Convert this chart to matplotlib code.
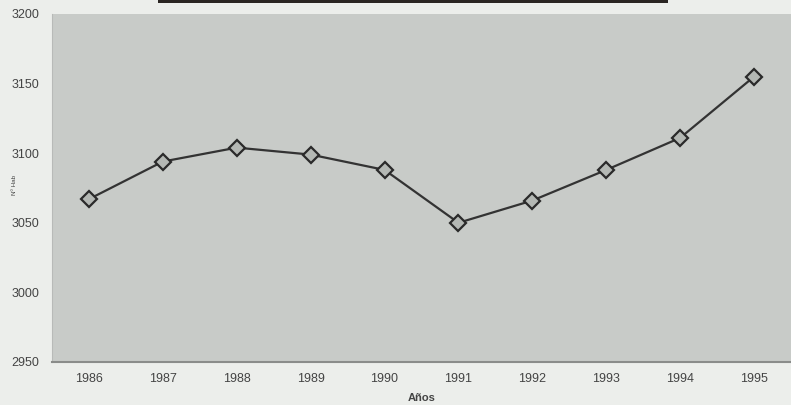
import matplotlib
matplotlib.use("Agg")
import matplotlib.pyplot as plt
from matplotlib.patches import Rectangle

years = ["1986", "1987", "1988", "1989", "1990", "1991", "1992", "1993", "1994", "1995"]
habitantes = [3067, 3094, 3104, 3099, 3088, 3050, 3066, 3088, 3111, 3155]
y_ticks = [2950, 3000, 3050, 3100, 3150, 3200]

plt.rcParams['font.family'] = ['Liberation Sans', 'DejaVu Sans']

fig = plt.figure(figsize=(7.91, 4.05), dpi=100)
fig.patch.set_facecolor('#eceeeb')
ax = fig.add_axes([52/791, 43/405, 1 - 52/791, (362-14)/405])
ax.set_facecolor('#c8cbc8')

x = list(range(len(years)))
ax.plot(x, habitantes, color='#333333', linewidth=1.6, marker='D', markersize=8.5,
        markerfacecolor='#b4b8b4', markeredgecolor='#2a2a2a', markeredgewidth=1.6)

ax.set_xlim(-0.5, len(years) - 0.5)
ax.set_ylim(2950, 3200)
ax.set_xticks(x)
ax.set_xticklabels(years)
ax.set_yticks(y_ticks)
ax.tick_params(axis='both', length=0, labelsize=9, colors='#444444')
ax.tick_params(axis='x', pad=8)
ax.tick_params(axis='y', pad=9)

for side in ['top', 'right']:
    ax.spines[side].set_visible(False)
ax.spines['left'].set_color('#b8bab8')
ax.spines['bottom'].set_color('#8a8c8a')
ax.spines['bottom'].set_linewidth(1.5)

ax.set_xlabel('Años', fontsize=8, fontweight='bold', color='#444444', labelpad=6)
ax.set_ylabel('Nº Hab', fontsize=4.5, color='#444444')
ax.yaxis.set_label_coords(-0.047, 0.51)

fig.patches.append(Rectangle((158/791, 1 - 3/405), (668-158)/791, 3/405,
                             transform=fig.transFigure, facecolor='#2a2522',
                             edgecolor='none'))

fig.savefig('out.png', dpi=100, facecolor=fig.get_facecolor())
